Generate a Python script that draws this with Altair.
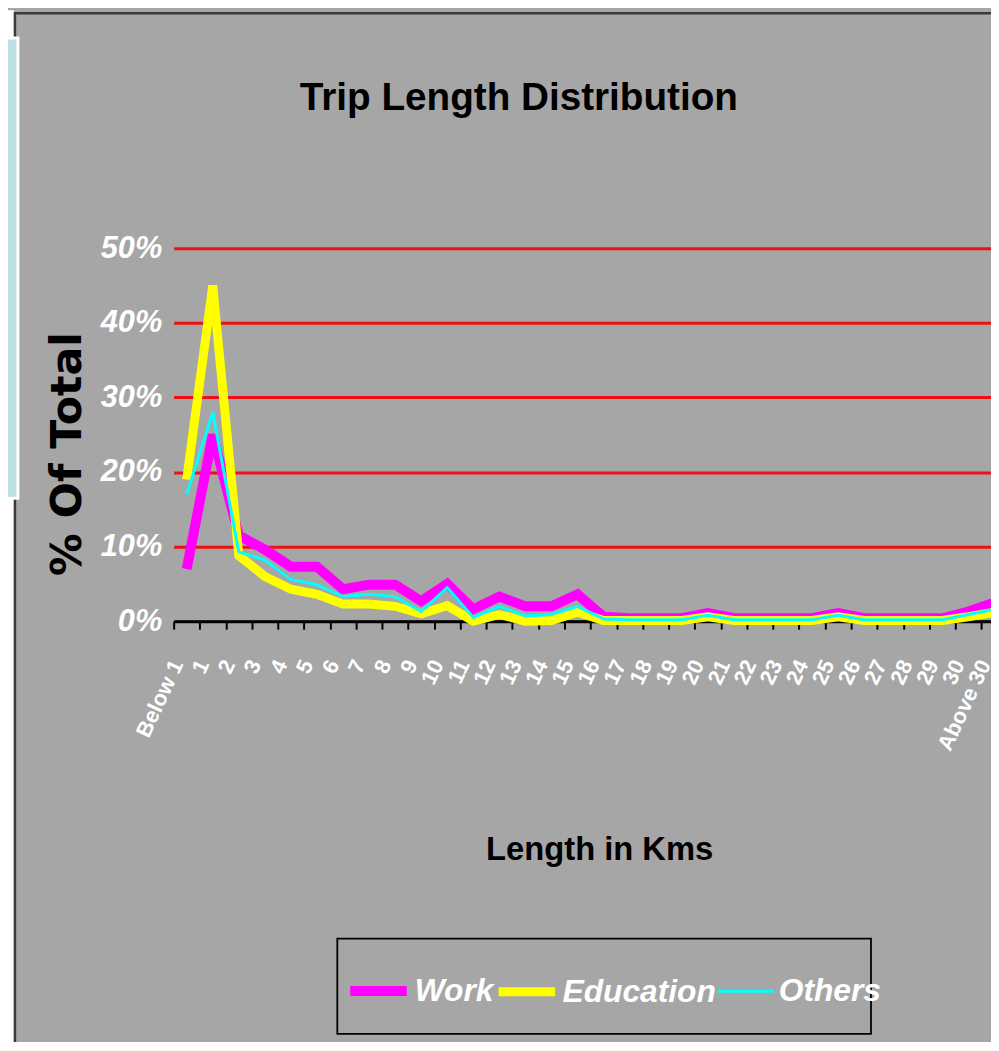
import altair as alt
import pandas as pd

categories = ["Below 1", "1", "2", "3", "4", "5", "6", "7", "8", "9", "10",
              "11", "12", "13", "14", "15", "16", "17", "18", "19", "20",
              "21", "22", "23", "24", "25", "26", "27", "28", "29", "30", "Above 30"]

work = [7.0, 25.0, 11.5, 9.6, 7.3, 7.3, 4.3, 4.9, 4.9, 2.7, 5.0,
        1.6, 3.3, 2.0, 2.0, 3.6, 0.6, 0.4, 0.4, 0.4, 1.1,
        0.4, 0.4, 0.4, 0.4, 1.1, 0.4, 0.4, 0.4, 0.4, 1.3, 2.5]
education = [19.0, 45.0, 8.8, 6.0, 4.3, 3.6, 2.3, 2.3, 2.0, 1.0, 2.1,
             0.0, 0.9, 0.0, 0.1, 1.2, 0.1, 0.1, 0.1, 0.1, 0.6,
             0.1, 0.1, 0.1, 0.1, 0.6, 0.1, 0.1, 0.1, 0.1, 0.6, 1.2]
others = [17.0, 28.0, 9.3, 8.2, 5.6, 4.9, 3.3, 3.6, 3.3, 1.3, 4.5,
          0.5, 2.0, 0.7, 0.9, 2.0, 0.3, 0.2, 0.2, 0.2, 0.8,
          0.2, 0.2, 0.2, 0.2, 0.8, 0.2, 0.2, 0.2, 0.2, 0.9, 1.6]

series_names = ["Work", "Education", "Others"]
series_colors = ["#ff00ff", "#ffff00", "#00ffff"]
series_widths = [10, 9, 3]
y_ticks = [0, 10, 20, 30, 40, 50]

chart_title = "Trip Length Distribution"

rows = []
for name, vals in zip(series_names, [work, education, others]):
    for c, v in zip(categories, vals):
        rows.append({"cat": c, "series": name, "value": v})
df = pd.DataFrame(rows)

ARIAL = "Liberation Sans, Arial, sans-serif"

W, H = 824, 376

legend = alt.Legend(
    title=None, orient="none", legendX=173, legendY=715, direction="horizontal",
    symbolType="stroke", symbolSize=3249, labelFont=ARIAL, labelFontSize=32,
    labelFontStyle="italic", labelFontWeight="bold", labelColor="white",
    labelOffset=3, columnPadding=-21, padding=0, labelLimit=400,
)

x_enc = alt.X(
    "cat:N", sort=categories,
    scale=alt.Scale(domain=categories, range=[0, 840.6], paddingInner=0, paddingOuter=0),
    axis=alt.Axis(
        title="Length in Kms", titleX=429, titleY=240, titleAlign="center",
        titleBaseline="alphabetic", titleFont=ARIAL, titleFontSize=33,
        titleFontWeight="bold", titleColor="black",
        domainColor="black", domainWidth=2, tickColor="black", tickWidth=2,
        tickSize=8, tickBand="extent", grid=False,
        labelAngle=-65, labelAlign="right", labelBaseline="middle",
        labelPadding=32, labelOffset=-10, labelColor="white",
        labelFont=ARIAL, labelFontSize=22,
        labelFontWeight="bold", labelOverlap=False, labelFlush=False,
        labelBound=False,
    ),
)
y_enc = alt.Y(
    "value:Q", scale=alt.Scale(domain=[0, 50]),
    axis=alt.Axis(
        values=y_ticks, labelExpr="datum.value + '%'", title="% Of Total",
        titleX=-107, titleY=207, titleAngle=270, titleAlign="center",
        titleBaseline="middle", titleFont="DejaVu Sans, Verdana, sans-serif",
        titleFontSize=43, titleFontWeight="bold", titleColor="black",
        domain=False, ticks=False, grid=True,
        gridColor={"condition": {"test": "datum.value === 0", "value": "black"}, "value": "#ee1111"},
        gridWidth=3,
        labelColor="white", labelFont=ARIAL, labelFontSize=31,
        labelFontStyle="italic", labelFontWeight="bold", labelPadding=12,
        labelAlign="right", labelBaseline="middle",
    ),
)
color_enc = alt.Color("series:N", scale=alt.Scale(domain=series_names, range=series_colors), legend=legend)
sw_enc = alt.StrokeWidth("series:N", scale=alt.Scale(type="ordinal", domain=series_names, range=series_widths), legend=legend)

one = pd.DataFrame({"a": [0]})

white_strip = alt.Chart(one).mark_rect(color="white").encode(
    x=alt.value(-170), x2=alt.value(-161), y=alt.value(-240), y2=alt.value(900))
frame = alt.Chart(one).mark_rect(fill="#a6a6a6", fillOpacity=0, stroke="#3a3a3a", strokeWidth=2.5).encode(
    x=alt.value(-160), x2=alt.value(900), y=alt.value(-237), y2=alt.value(900))
blue_box = alt.Chart(one).mark_rect(fill="#bde0e3", stroke="white", strokeWidth=3).encode(
    x=alt.value(-180), x2=alt.value(-157), y=alt.value(-212), y2=alt.value(252))
legend_box = alt.Chart(one).mark_rect(fillOpacity=0, stroke="black", strokeWidth=1.8).encode(
    x=alt.value(165), x2=alt.value(703), y=alt.value(696), y2=alt.value(792))
title_text = alt.Chart(one).mark_text(
    font=ARIAL, fontSize=39, fontWeight="bold", color="black",
    align="center", baseline="alphabetic").encode(
    x=alt.value(348), y=alt.value(-139), text=alt.value(chart_title))

lines = []
for name in series_names:
    lines.append(
        alt.Chart(df).transform_filter(alt.datum.series == name)
        .mark_line(strokeJoin="miter", strokeCap="butt")
        .encode(x=x_enc, y=y_enc, color=color_enc, strokeWidth=sw_enc)
    )

chart = alt.layer(white_strip, frame, blue_box, legend_box, title_text, *lines).properties(
    width=W, height=H,
    autosize=alt.AutoSizeParams(type="none"),
    padding={"left": 167, "top": 238, "right": 0, "bottom": 420},
).configure(background="#a6a6a6").configure_view(strokeWidth=0)

chart.save("out.html", embed_options={"renderer": "svg", "actions": False})
